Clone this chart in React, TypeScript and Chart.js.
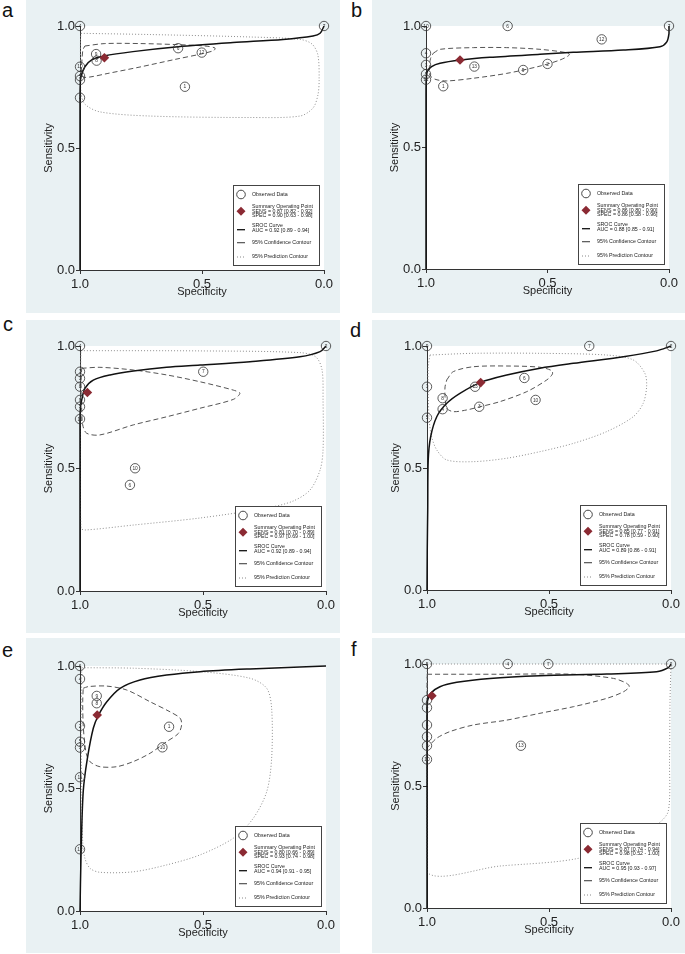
import React, { useEffect, useRef } from "react";
import { Chart, registerables } from "chart.js";
Chart.register(...registerables);

type Pt = [number, number]; // [specificity, sensitivity]

const tickValues = [0, 0.5, 1];
const tickLabels = ["0.0", "0.5", "1.0"];
const xTitle = "Specificity";
const yTitle = "Sensitivity";
const legendLabels = [
  "Observed Data",
  "Summary Operating Point",
  "SROC Curve",
  "95% Confidence Contour",
  "95% Prediction Contour",
];

// ---------- Panel a ----------
const aStudies: Pt[] = [[1, 1], [0, 1], [0.934, 0.885], [0.932, 0.858], [0.598, 0.909], [0.501, 0.891], [0.57, 0.751], [1, 0.833], [1, 0.795], [1, 0.779], [1, 0.706]];
const aIds = ["4", "7", "9", "8", "6", "12", "1", "10", "5", "3", "2"];
const aSummary: Pt = [0.9, 0.87];
const aSroc: Pt[] = [[1, 0], [1, 0.7], [0.999, 0.76], [0.996, 0.792], [0.98, 0.833], [0.952, 0.861], [0.902, 0.877], [0.783, 0.895], [0.598, 0.915], [0.373, 0.932], [0.168, 0.945], [0.045, 0.959], [0.016, 0.97], [0, 1]];
const aConf: Pt[] = [[0.98, 0.918], [0.898, 0.928], [0.754, 0.928], [0.611, 0.924], [0.488, 0.918], [0.447, 0.91], [0.451, 0.9], [0.496, 0.887], [0.611, 0.863], [0.754, 0.832], [0.889, 0.805], [0.959, 0.791], [0.988, 0.791], [0.994, 0.811], [0.992, 0.861], [0.988, 0.902], [0.98, 0.918]];
const aPred: Pt[] = [[0.996, 0.97], [0.713, 0.965], [0.303, 0.955], [0.098, 0.945], [0.049, 0.926], [0.025, 0.881], [0.02, 0.779], [0.025, 0.717], [0.045, 0.664], [0.098, 0.631], [0.303, 0.625], [0.713, 0.631], [0.918, 0.648], [0.98, 0.68], [0.996, 0.73], [0.998, 0.861], [0.998, 0.943], [0.996, 0.97]];
const aStats = ["SENS = 0.87 [0.82 - 0.92]", "SPEC = 0.90 [0.63 - 0.98]", "AUC = 0.92 [0.89 - 0.94]"];

// ---------- Panel b ----------
const bStudies: Pt[] = [[1, 1], [0.664, 1], [0, 1], [0.277, 0.945], [1, 0.888], [1, 0.84], [1, 0.802], [1, 0.779], [0.929, 0.752], [0.801, 0.833], [0.6, 0.819], [0.5, 0.844]];
const bIds = ["10", "6", "7", "12", "4", "3", "5", "11", "1", "13", "9", "2"];
const bSummary: Pt = [0.86, 0.86];
const bSroc: Pt[] = [[1, 0], [1, 0.72], [0.999, 0.78], [0.995, 0.812], [0.977, 0.833], [0.942, 0.847], [0.856, 0.86], [0.737, 0.871], [0.531, 0.884], [0.394, 0.892], [0.188, 0.901], [0.037, 0.915], [0.009, 0.935], [0, 0.97], [0, 1]];
const bConf: Pt[] = [[0.97, 0.888], [0.942, 0.904], [0.805, 0.911], [0.668, 0.911], [0.531, 0.904], [0.421, 0.89], [0.41, 0.881], [0.449, 0.86], [0.531, 0.835], [0.668, 0.805], [0.805, 0.785], [0.915, 0.774], [0.963, 0.781], [0.984, 0.798], [0.986, 0.833], [0.981, 0.867], [0.97, 0.888]];
const bPred: Pt[] = [];
const bStats = ["SENS = 0.86 [0.80 - 0.90]", "SPEC = 0.86 [0.58 - 0.96]", "AUC = 0.88 [0.85 - 0.91]"];

// ---------- Panel c ----------
const cStudies: Pt[] = [[1, 1], [0, 1], [1, 0.895], [1, 0.868], [1, 0.834], [1, 0.78], [1, 0.752], [1, 0.702], [0.499, 0.895], [0.776, 0.501], [0.797, 0.433]];
const cIds = ["4", "2", "1", "3", "8", "9", "5", "11", "7", "10", "6"];
const cSummary: Pt = [0.97, 0.81];
const cSroc: Pt[] = [[1, 0], [1, 0.7], [0.998, 0.75], [0.993, 0.78], [0.98, 0.827], [0.946, 0.861], [0.878, 0.882], [0.783, 0.898], [0.648, 0.913], [0.512, 0.922], [0.309, 0.936], [0.106, 0.956], [0.024, 0.977], [0, 1]];
const cConf: Pt[] = [[0.993, 0.909], [0.919, 0.913], [0.783, 0.902], [0.648, 0.882], [0.512, 0.854], [0.377, 0.82], [0.35, 0.807], [0.377, 0.782], [0.512, 0.746], [0.648, 0.711], [0.783, 0.678], [0.919, 0.637], [0.973, 0.644], [0.989, 0.678], [0.993, 0.739], [0.996, 0.848], [0.993, 0.909]];
const cPred: Pt[] = [[0.996, 0.981], [0.512, 0.98], [0.106, 0.973], [0.041, 0.955], [0.016, 0.902], [0.012, 0.78], [0.012, 0.576], [0.024, 0.494], [0.065, 0.412], [0.134, 0.367], [0.24, 0.339], [0.512, 0.298], [0.785, 0.269], [0.98, 0.249], [0.996, 0.257], [0.998, 0.576], [0.998, 0.861], [0.996, 0.981]];
const cStats = ["SENS = 0.81 [0.70 - 0.89]", "SPEC = 0.97 [0.69 - 1.00]", "AUC = 0.92 [0.89 - 0.94]"];

// ---------- Panel d ----------
const dStudies: Pt[] = [[1, 1], [0.335, 1], [0, 1], [1, 0.833], [1, 0.706], [0.936, 0.786], [0.936, 0.741], [0.803, 0.833], [0.786, 0.751], [0.601, 0.869], [0.555, 0.779]];
const dIds = ["9", "7", "2", "1", "5", "8", "4", "13", "3", "6", "10"];
const dSummary: Pt = [0.78, 0.85];
const dSroc: Pt[] = [[1, 0], [0.999, 0.164], [0.997, 0.328], [0.995, 0.533], [0.985, 0.628], [0.96, 0.71], [0.919, 0.765], [0.865, 0.806], [0.78, 0.851], [0.673, 0.881], [0.537, 0.909], [0.4, 0.929], [0.195, 0.956], [0.059, 0.98], [0, 1]];
const dConf: Pt[] = [[0.919, 0.861], [0.892, 0.895], [0.81, 0.915], [0.673, 0.918], [0.537, 0.913], [0.489, 0.899], [0.486, 0.885], [0.509, 0.861], [0.591, 0.813], [0.701, 0.772], [0.783, 0.751], [0.837, 0.738], [0.892, 0.731], [0.919, 0.745], [0.926, 0.792], [0.926, 0.833], [0.919, 0.861]];
const dPred: Pt[] = [[0.988, 0.963], [0.81, 0.97], [0.537, 0.97], [0.264, 0.963], [0.155, 0.943], [0.107, 0.888], [0.1, 0.833], [0.114, 0.765], [0.155, 0.71], [0.264, 0.649], [0.4, 0.601], [0.537, 0.567], [0.673, 0.54], [0.81, 0.526], [0.919, 0.533], [0.96, 0.574], [0.981, 0.628], [0.991, 0.697], [0.995, 0.806], [0.995, 0.915], [0.988, 0.963]];
const dStats = ["SENS = 0.85 [0.77 - 0.91]", "SPEC = 0.78 [0.59 - 0.90]", "AUC = 0.89 [0.86 - 0.91]"];

// ---------- Panel e ----------
const eStudies: Pt[] = [[1, 1], [1, 0.947], [0.932, 0.878], [0.932, 0.848], [1, 0.755], [1, 0.691], [1, 0.667], [1, 0.546], [1, 0.252], [0.638, 0.752], [0.665, 0.668]];
const eIds = ["6", "4", "9", "8", "2", "5", "3", "11", "12", "1", "10"];
const eSummary: Pt = [0.93, 0.8];
const eSroc: Pt[] = [[1, 0], [0.996, 0.216], [0.987, 0.487], [0.97, 0.623], [0.946, 0.746], [0.926, 0.797], [0.891, 0.854], [0.837, 0.909], [0.756, 0.943], [0.648, 0.963], [0.512, 0.977], [0.309, 0.988], [0.106, 0.996], [0, 1]];
const eConf: Pt[] = [[0.987, 0.909], [0.966, 0.916], [0.891, 0.918], [0.81, 0.902], [0.715, 0.854], [0.634, 0.813], [0.593, 0.787], [0.587, 0.759], [0.6, 0.725], [0.648, 0.691], [0.715, 0.644], [0.783, 0.61], [0.851, 0.589], [0.919, 0.589], [0.959, 0.609], [0.973, 0.637], [0.98, 0.678], [0.987, 0.759], [0.989, 0.854], [0.987, 0.909]];
const ePred: Pt[] = [[0.993, 0.993], [0.783, 0.991], [0.512, 0.977], [0.309, 0.95], [0.241, 0.909], [0.221, 0.827], [0.221, 0.623], [0.241, 0.487], [0.296, 0.378], [0.377, 0.297], [0.512, 0.229], [0.648, 0.188], [0.783, 0.16], [0.919, 0.158], [0.959, 0.174], [0.98, 0.215], [0.989, 0.283], [0.993, 0.487], [0.995, 0.759], [0.993, 0.993]];
const eStats = ["SENS = 0.80 [0.66 - 0.89]", "SPEC = 0.93 [0.74 - 0.98]", "AUC = 0.94 [0.91 - 0.95]"];

// ---------- Panel f ----------
const fStudies: Pt[] = [[1, 1], [0.669, 1], [0.503, 1], [0, 1], [1, 0.852], [1, 0.821], [1, 0.75], [1, 0.702], [1, 0.665], [1, 0.609], [0.615, 0.665]];
const fIds = ["5", "4", "7", "2", "1", "3", "6", "8", "9", "10", "13"];
const fSummary: Pt = [0.98, 0.87];
const fSroc: Pt[] = [[1, 0], [1, 0.805], [0.999, 0.845], [0.985, 0.88], [0.947, 0.907], [0.878, 0.925], [0.742, 0.941], [0.537, 0.952], [0.264, 0.959], [0.059, 0.968], [0.011, 0.985], [0, 1]];
const fConf: Pt[] = [[0.999, 0.958], [0.701, 0.958], [0.4, 0.958], [0.236, 0.941], [0.182, 0.921], [0.171, 0.907], [0.195, 0.886], [0.264, 0.859], [0.4, 0.825], [0.537, 0.798], [0.673, 0.77], [0.81, 0.75], [0.906, 0.723], [0.96, 0.696], [0.995, 0.661], [1, 0.656], [1, 0.77], [1, 0.893], [0.999, 0.958]];
const fPred: Pt[] = [[1, 1], [0.5, 1], [0, 1], [0.004, 0.852], [0.006, 0.607], [0.012, 0.393], [0.127, 0.299], [0.373, 0.205], [0.701, 0.172], [0.999, 0.146], [1, 0.5], [1, 1]];
const fStats = ["SENS = 0.87 [0.74 - 0.94]", "SPEC = 0.98 [0.52 - 1.00]", "AUC = 0.95 [0.93 - 0.97]"];

// ---------- layout (not data) ----------
const BG = "#e9f1f3";
const FONT = "'Liberation Sans', Arial, Helvetica, sans-serif";
const RED = "#8b2a33";

interface PanelDef {
  letter: string;
  letterPos: [number, number];
  box: [number, number, number, number];
  plot: [number, number, number, number];
  studies: Pt[];
  ids: string[];
  summary: Pt;
  sroc: Pt[];
  conf: Pt[];
  pred: Pt[];
  stats: string[];
}

const panels: PanelDef[] = [
  { letter: "a", letterPos: [2, 0], box: [26, 0, 314, 313], plot: [80, 26, 324, 270], studies: aStudies, ids: aIds, summary: aSummary, sroc: aSroc, conf: aConf, pred: aPred, stats: aStats },
  { letter: "b", letterPos: [351, 0], box: [372, 0, 313, 313], plot: [426, 26, 669, 269], studies: bStudies, ids: bIds, summary: bSummary, sroc: bSroc, conf: bConf, pred: bPred, stats: bStats },
  { letter: "c", letterPos: [3, 314], box: [26, 320, 314, 313], plot: [80, 346, 326, 591], studies: cStudies, ids: cIds, summary: cSummary, sroc: cSroc, conf: cConf, pred: cPred, stats: cStats },
  { letter: "d", letterPos: [350, 320], box: [372, 320, 313, 313], plot: [427, 346, 671, 590], studies: dStudies, ids: dIds, summary: dSummary, sroc: dSroc, conf: dConf, pred: dPred, stats: dStats },
  { letter: "e", letterPos: [2, 640], box: [26, 638, 314, 315], plot: [80, 666, 326, 911], studies: eStudies, ids: eIds, summary: eSummary, sroc: eSroc, conf: eConf, pred: ePred, stats: eStats },
  { letter: "f", letterPos: [351, 639], box: [372, 638, 313, 315], plot: [427, 664, 671, 908], studies: fStudies, ids: fIds, summary: fSummary, sroc: fSroc, conf: fConf, pred: fPred, stats: fStats },
];

const Y_W = 40;
const X_H = 30;

function drawDiamond(ctx: CanvasRenderingContext2D, x: number, y: number, r: number) {
  ctx.beginPath();
  ctx.moveTo(x, y - r);
  ctx.lineTo(x + r, y);
  ctx.lineTo(x, y + r);
  ctx.lineTo(x - r, y);
  ctx.closePath();
  ctx.fill();
}

function SrocPanel({ p }: { p: PanelDef }) {
  const ref = useRef<HTMLCanvasElement>(null);
  const [bx, by, bw, bh] = p.box;
  useEffect(() => {
    const [pl, pt, pr, pb] = p.plot;
    const toXY = (arr: Pt[]) => arr.map(([s, se]) => ({ x: s, y: se }));
    const axisCommon = (isX: boolean) => ({
      type: "linear" as const,
      min: 0,
      max: 1,
      reverse: isX,
      afterBuildTicks: (s: any) => {
        s.ticks = tickValues.map((v) => ({ value: v }));
      },
      afterFit: (s: any) => {
        if (isX) s.height = X_H;
        else s.width = Y_W;
      },
      ticks: {
        callback: (v: any) => tickLabels[tickValues.indexOf(Number(v))],
        font: { size: 13, family: FONT },
        color: "#222",
        padding: isX ? 3 : 1,
        maxRotation: 0,
        autoSkip: false,
      },
      grid: { drawOnChartArea: false, drawTicks: true, tickLength: 4, color: "#333", lineWidth: 1 },
      border: { display: true, color: "#333", width: 1 },
    });

    const bgPlugin = {
      id: "bgPlugin",
      beforeDraw(chart: any) {
        const ctx = chart.ctx;
        const a = chart.chartArea;
        ctx.save();
        ctx.fillStyle = BG;
        ctx.fillRect(0, 0, chart.width, chart.height);
        ctx.fillStyle = "#fff";
        ctx.fillRect(a.left, a.top, a.right - a.left, a.bottom - a.top);
        ctx.restore();
      },
    };

    const idPlugin = {
      id: "idPlugin",
      afterDatasetsDraw(chart: any) {
        const ctx = chart.ctx;
        const meta = chart.getDatasetMeta(3);
        ctx.save();
        ctx.fillStyle = "#333";
        ctx.font = `4.8px ${FONT}`;
        ctx.textAlign = "center";
        ctx.textBaseline = "middle";
        meta.data.forEach((el: any, i: number) => {
          ctx.fillText(p.ids[i], el.x, el.y + 0.3);
        });
        ctx.restore();
      },
    };

    const decorPlugin = {
      id: "decorPlugin",
      afterDraw(chart: any) {
        const ctx = chart.ctx;
        const a = chart.chartArea;
        ctx.save();
        // axis titles
        ctx.fillStyle = "#222";
        ctx.font = `11px ${FONT}`;
        ctx.textAlign = "center";
        ctx.textBaseline = "middle";
        ctx.fillText(xTitle, (a.left + a.right) / 2, a.bottom + 22);
        ctx.save();
        ctx.translate(a.left - 31, (a.top + a.bottom) / 2);
        ctx.rotate(-Math.PI / 2);
        ctx.fillText(yTitle, 0, 0);
        ctx.restore();

        // legend box
        const W = 87;
        const H = 81;
        const lx = a.right - 4 - W;
        const ly = a.bottom - 4 - H;
        ctx.fillStyle = "#fff";
        ctx.fillRect(lx, ly, W, H);
        ctx.strokeStyle = "#444";
        ctx.lineWidth = 1;
        ctx.setLineDash([]);
        ctx.strokeRect(Math.round(lx) + 0.5, Math.round(ly) + 0.5, W - 1, H - 1);
        const sx = lx + 8;
        const tx = lx + 19;
        ctx.font = `5.3px ${FONT}`;
        ctx.textAlign = "left";
        ctx.textBaseline = "middle";
        ctx.fillStyle = "#222";
        // observed
        ctx.beginPath();
        ctx.arc(sx, ly + 9.5, 4.3, 0, Math.PI * 2);
        ctx.strokeStyle = "#333";
        ctx.lineWidth = 0.9;
        ctx.stroke();
        ctx.fillText(legendLabels[0], tx, ly + 9.5);
        // summary
        ctx.fillStyle = RED;
        drawDiamond(ctx, sx, ly + 26.3, 4.5);
        ctx.fillStyle = "#222";
        ctx.fillText(legendLabels[1], tx, ly + 22);
        ctx.fillText(p.stats[0], tx, ly + 26.2);
        ctx.fillText(p.stats[1], tx, ly + 30.4);
        // SROC
        ctx.strokeStyle = "#111";
        ctx.lineWidth = 1.3;
        ctx.beginPath();
        ctx.moveTo(sx - 4, ly + 44.7);
        ctx.lineTo(sx + 4, ly + 44.7);
        ctx.stroke();
        ctx.fillText(legendLabels[2], tx, ly + 41);
        ctx.fillText(p.stats[2], tx, ly + 45.5);
        // confidence
        ctx.strokeStyle = "#444";
        ctx.lineWidth = 1.1;
        ctx.beginPath();
        ctx.moveTo(sx - 4, ly + 57.7);
        ctx.lineTo(sx + 4, ly + 57.7);
        ctx.stroke();
        ctx.fillText(legendLabels[3], tx, ly + 57.7);
        // prediction
        ctx.strokeStyle = "#888";
        ctx.lineWidth = 1;
        ctx.setLineDash([1, 2]);
        ctx.beginPath();
        ctx.moveTo(sx - 4, ly + 72);
        ctx.lineTo(sx + 4, ly + 72);
        ctx.stroke();
        ctx.setLineDash([]);
        ctx.fillText(legendLabels[4], tx, ly + 72);
        ctx.restore();
      },
    };

    const chart = new Chart(ref.current as HTMLCanvasElement, {
      type: "scatter",
      data: {
        datasets: [
          { label: legendLabels[4], data: toXY(p.pred), showLine: true, borderColor: "#8f8f8f", borderWidth: 1, borderDash: [1, 2], pointRadius: 0, tension: 0.3, fill: false, clip: false, order: 5 } as any,
          { label: legendLabels[3], data: toXY(p.conf), showLine: true, borderColor: "#555", borderWidth: 1, borderDash: [5, 3], pointRadius: 0, tension: 0.3, fill: false, clip: false, order: 4 } as any,
          { label: legendLabels[2], data: toXY(p.sroc), showLine: true, borderColor: "#111", borderWidth: 1.5, pointRadius: 0, tension: 0.3, fill: false, clip: false, order: 3 } as any,
          { label: legendLabels[0], data: toXY(p.studies), pointStyle: "circle", pointRadius: 4.7, borderColor: "#333", borderWidth: 0.8, backgroundColor: "rgba(255,255,255,0)", clip: false, order: 2 } as any,
          { label: legendLabels[1], data: toXY([p.summary]), pointStyle: "rectRot", pointRadius: 4.8, backgroundColor: RED, borderColor: RED, borderWidth: 0, clip: false, order: 1 } as any,
        ],
      },
      options: {
        responsive: false,
        animation: false,
        devicePixelRatio: 1,
        events: [],
        layout: {
          padding: {
            left: pl - bx - Y_W,
            top: pt - by,
            right: bx + bw - pr,
            bottom: by + bh - pb - X_H,
          },
        },
        plugins: { legend: { display: false }, tooltip: { enabled: false }, title: { display: false } },
        scales: { x: axisCommon(true) as any, y: axisCommon(false) as any },
      },
      plugins: [bgPlugin, idPlugin, decorPlugin],
    });
    return () => chart.destroy();
  }, [p]);

  return (
    <canvas
      ref={ref}
      width={bw}
      height={bh}
      style={{ position: "absolute", left: bx, top: by, width: bw, height: bh }}
    />
  );
}

export default function App() {
  return (
    <div style={{ position: "absolute", left: 0, top: 0, width: 685, height: 954, background: "#fff", overflow: "hidden" }}>
      {panels.map((p) => (
        <React.Fragment key={p.letter}>
          <SrocPanel p={p} />
          <div
            style={{
              position: "absolute",
              left: p.letterPos[0],
              top: p.letterPos[1],
              font: `20px ${FONT}`,
              lineHeight: "20px",
              color: "#111",
            }}
          >
            {p.letter}
          </div>
        </React.Fragment>
      ))}
    </div>
  );
}
